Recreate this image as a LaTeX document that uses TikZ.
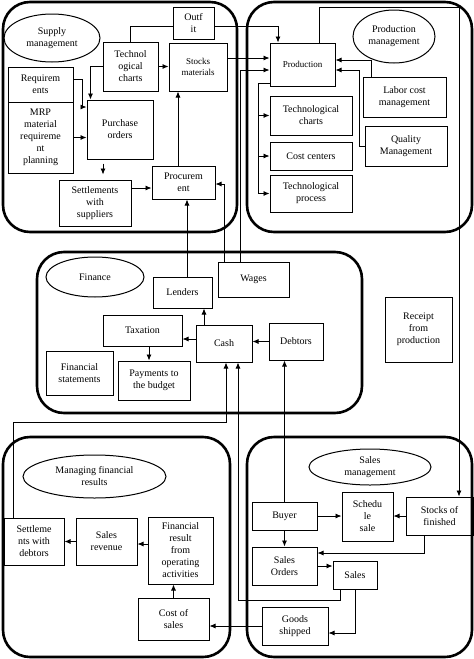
\documentclass[tikz,border=0pt]{standalone}
\usepackage{fontspec}
\setmainfont{Liberation Serif}
\usetikzlibrary{shapes.geometric,arrows.meta}
\begin{document}
\begin{tikzpicture}[x=1pt,y=-1pt,
  grp/.style={draw, line width=2.6pt, rounded corners=27pt, rectangle, inner sep=0pt},
  bx/.style={draw, line width=1pt, rectangle, align=center, inner sep=1pt, font=\fontsize{10}{12}\selectfont},
  sbx/.style={bx, font=\fontsize{9}{11}\selectfont},
  ell/.style={draw, line width=1pt, ellipse, align=center, inner sep=0pt, font=\fontsize{10}{12}\selectfont},
  ln/.style={line width=0.8pt},
  arr/.style={ln, -{Latex[length=6pt,width=5pt]}}]
\useasboundingbox (0,0) rectangle (474,659);

% groups
\node[grp, minimum width=234pt, minimum height=230pt] (gSupply) at (120,117) {};
\node[grp, minimum width=225pt, minimum height=230pt] (gProd) at (359.5,117) {};
\node[grp, minimum width=325pt, minimum height=161pt] (gFin) at (199.5,332.5) {};
\node[grp, minimum width=227pt, minimum height=220pt] (gMfr) at (116.5,547) {};
\node[grp, minimum width=225pt, minimum height=220pt] (gSales) at (359.5,547) {};

% ellipses
\node[ell, minimum width=96pt, minimum height=48pt] (eSupply) at (52,38) {Supply\\management};
\node[ell, minimum width=82pt, minimum height=53pt] (eProd) at (394,36.5) {Production\\management};
\node[ell, minimum width=98pt, minimum height=40pt] (eFin) at (95,277) {Finance};
\node[ell, minimum width=143pt, minimum height=43pt] (eMfr) at (94.5,476.5) {Managing financial\\results};
\node[ell, minimum width=122pt, minimum height=36pt] (eSales) at (370,467) {Sales\\management};

% supply boxes
\node[bx, minimum width=41pt, minimum height=32pt] (outfit) at (193.5,23) {Outf\\it};
\node[bx, minimum width=55pt, minimum height=49pt] (techS) at (130.5,66.5) {Technol\\ogical\\charts};
\node[sbx, minimum width=58pt, minimum height=48pt] (stockM) at (198,67) {Stocks\\materials};
\node[bx, minimum width=65pt, minimum height=35pt] (req) at (40.5,84.5) {Requirem\\ents};
\node[bx, minimum width=65pt, minimum height=71pt] (mrp) at (40.5,137.5) {MRP\\material\\requireme\\nt\\planning};
\node[bx, minimum width=66pt, minimum height=59pt] (po) at (120,129.5) {Purchase\\orders};
\node[bx, minimum width=72pt, minimum height=46pt] (setS) at (95,203) {Settlements\\with\\suppliers};
\node[bx, minimum width=63pt, minimum height=33pt] (proc) at (183.5,182.5) {Procurem\\ent};

% production boxes
\node[sbx, minimum width=65pt, minimum height=43pt] (prod) at (302.5,64.5) {Production};
\node[bx, minimum width=82pt, minimum height=39pt] (techP) at (311,115.5) {Technological\\charts};
\node[bx, minimum width=82pt, minimum height=28pt] (cost) at (311,156) {Cost centers};
\node[bx, minimum width=82pt, minimum height=37pt] (tproc) at (311,193.5) {Technological\\process};
\node[bx, minimum width=83pt, minimum height=40pt] (labor) at (404.5,97) {Labor cost\\management};
\node[bx, minimum width=82pt, minimum height=40pt] (qual) at (406,146) {Quality\\Management};

% finance boxes
\node[bx, minimum width=59pt, minimum height=31pt] (lenders) at (182.5,292.5) {Lenders};
\node[bx, minimum width=71pt, minimum height=35pt] (wages) at (253.5,279.5) {Wages};
\node[bx, minimum width=79pt, minimum height=31pt] (tax) at (142.5,330.5) {Taxation};
\node[bx, minimum width=56pt, minimum height=37pt] (cash) at (224,343.5) {Cash};
\node[bx, minimum width=54pt, minimum height=37pt] (debtors) at (296,341.5) {Debtors};
\node[bx, minimum width=67pt, minimum height=44pt] (finst) at (79.5,373) {Financial\\statements};
\node[bx, minimum width=72pt, minimum height=39pt] (pay) at (154,380.5) {Payments to\\the budget};
\node[bx, minimum width=67pt, minimum height=65pt] (receipt) at (418.5,329.5) {Receipt\\from\\production};

% managing financial results boxes
\node[bx, minimum width=60pt, minimum height=47pt] (setD) at (34,541.5) {Settleme\\nts with\\debtors};
\node[bx, minimum width=61pt, minimum height=47pt] (rev) at (106.5,541.5) {Sales\\revenue};
\node[bx, minimum width=65pt, minimum height=67pt] (fres) at (180.5,550.5) {Financial\\result\\from\\operating\\activities};
\node[bx, minimum width=71pt, minimum height=42pt] (cos) at (173.5,619) {Cost of\\sales};

% sales boxes
\node[bx, minimum width=65pt, minimum height=28pt] (buyer) at (284.5,516) {Buyer};
\node[bx, minimum width=51pt, minimum height=49pt] (sched) at (367.5,516.5) {Schedu\\le\\sale};
\node[bx, minimum width=67pt, minimum height=38pt] (stockF) at (439.5,516) {Stocks of\\finished};
\node[bx, minimum width=65pt, minimum height=38pt] (so) at (284.5,566) {Sales\\Orders};
\node[bx, minimum width=44pt, minimum height=28pt] (sales) at (355,575) {Sales};
\node[bx, minimum width=66pt, minimum height=38pt] (gs) at (295,626) {Goods\\shipped};

% helper coordinates
\coordinate (topR) at (459,7);
\coordinate (pb) at (258,83);
\coordinate (j1) at (226,422);
\coordinate (j2) at (238,600);

% supply connectors
\draw[arr] (techS.west) -| ([xshift=4pt]po.north west);
\draw[arr] (techS.east) -- (techS.east -| stockM.west);
\draw[arr] ([yshift=5.5pt]req.east) -- ++(9,0) |- ([yshift=22.5pt]po.west);
\draw[arr] (mrp.east) -- (mrp.east -| po.west);
\draw[arr] ([xshift=-17pt,yshift=-4pt]po.south) -- ([xshift=8pt,yshift=5pt]setS.north);
\draw[arr] ([yshift=15pt]setS.east) -- ([yshift=15pt]setS.east -| proc.west);
\draw[arr] ([xshift=-5.5pt]proc.north) -- ([xshift=-5.5pt]proc.north |- stockM.south);
\draw[arr] ([xshift=4.5pt]lenders.north) -- ([xshift=4.5pt]lenders.north |- proc.south);
\draw[arr] ([xshift=-29.5pt]wages.north) |- ([yshift=-1.5pt]proc.east);
\draw[arr] ([xshift=-13.5pt]wages.north) |- ([yshift=-5.5pt]prod.west);
\draw[arr] ([yshift=9pt]stockM.east) -- ([yshift=9pt]stockM.east -| prod.west);
\draw[ln] (techS.north) |- ([yshift=-3pt]outfit.west);
\draw[arr] ([yshift=-3pt]outfit.east) -| ([xshift=-24.5pt]prod.north);

% production connectors
\draw[arr] ([xshift=16.5pt]prod.north) |- (topR) -- ([xshift=19.5pt]stockF.north);
\draw[ln] ([yshift=-18.5pt]prod.west) -- (pb);
\draw[arr] (pb) |- (tproc.west);
\draw[arr] (pb |- techP.west) -- (techP.west);
\draw[arr] (pb |- cost.west) -- (cost.west);
\draw[arr] ([xshift=-33.5pt]labor.north) |- ([yshift=4.5pt]prod.east);
\draw[arr] (qual.west) -- ++(-5,0) |- ([yshift=-5.5pt]prod.east);

% finance connectors
\draw[arr] ([xshift=-20pt]cash.north) -- ([xshift=-20pt]cash.north |- lenders.south);
\draw[arr] ([yshift=4.5pt]cash.west) -- ([yshift=4.5pt]cash.west -| tax.east);
\draw[arr] ([xshift=6.5pt]tax.south) -- ([xshift=6.5pt]tax.south |- pay.north);
\draw[arr] (debtors.west) -- (debtors.west -| cash.east);
\draw[arr] ([xshift=-21pt]setD.north) |- (j1) -- (j1 |- cash.south);
\draw[arr] ([xshift=-15pt]sales.south) |- (j2) -- (j2 |- cash.south);
\draw[arr] (buyer.north) -- (buyer.north |- debtors.south);

% managing financial results connectors
\draw[arr] (rev.west) -- (rev.west -| setD.east);
\draw[arr] ([yshift=6.5pt]fres.west) -- ([yshift=6.5pt]fres.west -| rev.east);
\draw[arr] (cos.north) -- (cos.north |- fres.south);
\draw[arr] (gs.west) -- (gs.west -| cos.east);

% sales connectors
\draw[arr] (buyer.east) -- (buyer.east -| sched.west);
\draw[arr] (stockF.west) -- (stockF.west -| sched.east);
\draw[arr] (buyer.south) -- (buyer.south |- so.north);
\draw[arr] ([xshift=-15.5pt]stockF.south) |- ([yshift=13pt]so.east);
\draw[arr] (so.east) -- (so.east -| sales.west);
\draw[arr] (sales.south) |- ([yshift=-7pt]gs.east);
\end{tikzpicture}
\end{document}
